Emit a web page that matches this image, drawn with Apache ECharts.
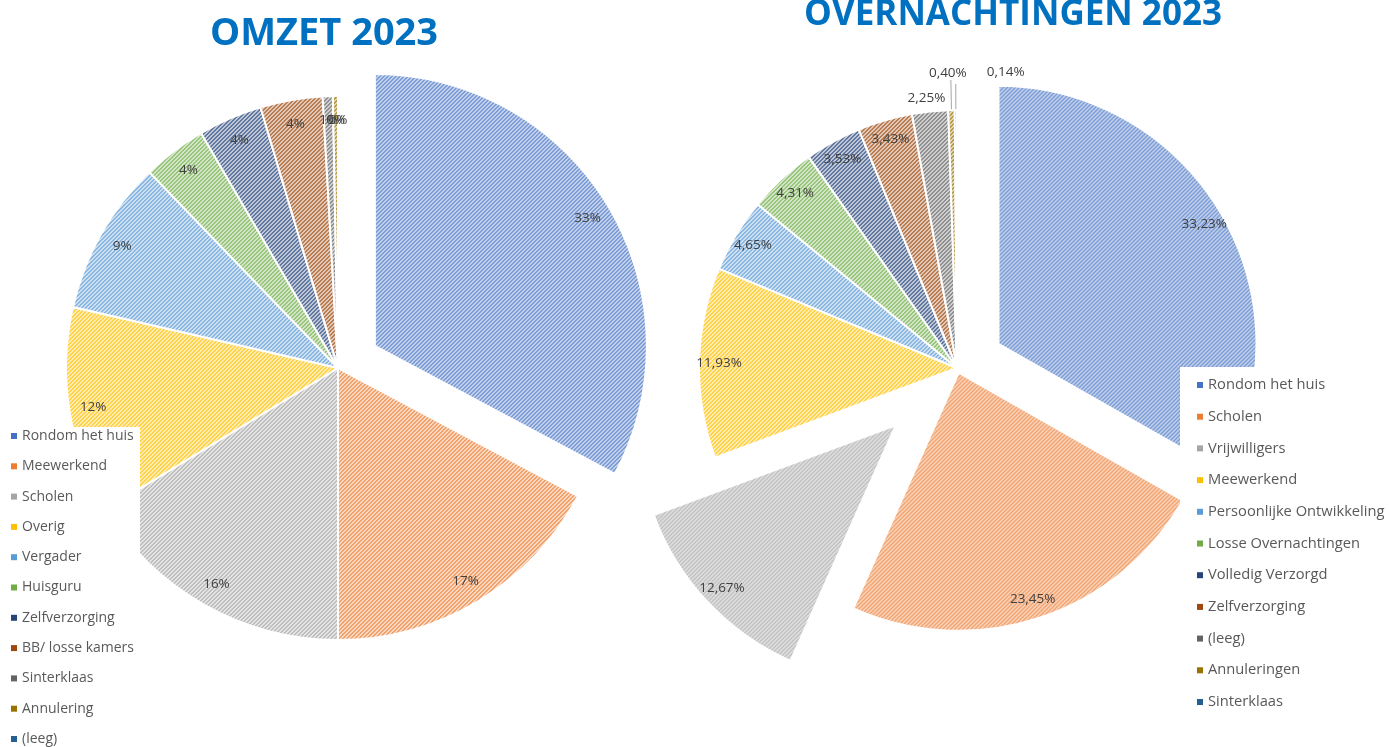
<!DOCTYPE html>
<html><head><meta charset="utf-8">
<script src="https://cdn.jsdelivr.net/npm/echarts@6.0.0/dist/echarts.min.js"></script>
<style>html,body{margin:0;padding:0;background:#fff}#c{width:1389px;height:747px}</style>
</head><body><div id="c"></div>
<script>
// ---- data ----
const omzetTitle = 'OMZET 2023';
const omzetCategories = ['Rondom het huis','Meewerkend','Scholen','Overig','Vergader','Huisguru','Zelfverzorging','BB/ losse kamers','Sinterklaas','Annulering','(leeg)'];
const omzetValues = [32.8,17.2,16.3,12.3,9.2,3.8,3.8,3.7,0.6,0.3,0];

const overnTitle = 'OVERNACHTINGEN 2023';
const overnCategories = ['Rondom het huis','Scholen','Vrijwilligers','Meewerkend','Persoonlijke Ontwikkeling','Losse Overnachtingen','Volledig Verzorgd','Zelfverzorging','(leeg)','Annuleringen','Sinterklaas'];
const overnValues = [33.23,23.45,12.67,11.93,4.65,4.31,3.53,3.43,2.25,0.40,0.14];

const palette = ['#4472C4','#ED7D31','#A5A5A5','#FFC000','#5B9BD5','#70AD47','#264478','#9E480E','#636363','#997300','#255E91'];

// ---- helpers ----
function mix(hex, t){
  const r=parseInt(hex.slice(1,3),16), g=parseInt(hex.slice(3,5),16), b=parseInt(hex.slice(5,7),16);
  return [r+(255-r)*t, g+(255-g)*t, b+(255-b)*t].map(Math.round);
}
function hatch(hex){
  const c=document.createElement('canvas'); c.width=4; c.height=4;
  const ctx=c.getContext('2d'); const img=ctx.createImageData(4,4);
  const d=mix(hex,0.28), l=mix(hex,0.7);
  for(let y=0;y<4;y++) for(let x=0;x<4;x++){
    const col=((x+y)%4<2)?d:l; const k=(y*4+x)*4;
    img.data[k]=col[0]; img.data[k+1]=col[1]; img.data[k+2]=col[2]; img.data[k+3]=255;
  }
  ctx.putImageData(img,0,0);
  return {image:c, repeat:'repeat'};
}
const FONT='"Open Sans", "Noto Sans", sans-serif';
const NONE='rgba(0,0,0,0)';

function buildPie(cats, vals, cfg){
  const out=[];
  cfg.groups.forEach(g=>{
    const inG=i=>g.idx.indexOf(i)>=0;
    const isOut=i=>(cfg.outside||[]).indexOf(i)>=0;
    const hasOut=g.idx.some(isOut);
    const s={
      type:'pie', center:cfg.center, radius:[0,cfg.r], startAngle:90, clockwise:true,
      selectedMode:'multiple', selectedOffset:g.offset, silent:true, animation:false,
      avoidLabelOverlap:false, percentPrecision:cfg.precision, z:2,
      select:{itemStyle:{borderColor:'#fff',borderWidth:2}},
      data:cats.map((n,i)=>({
        name:n, value:vals[i], selected:inG(i)&&g.offset>0,
        itemStyle: inG(i)?{color:hatch(palette[i]),borderColor:'#fff',borderWidth:2}:{color:NONE,borderWidth:0},
        label: (inG(i)&&isOut(i))?{show:true,position:'outside',distanceToLabelLine:3,formatter:cfg.fmt,color:'#404040',fontSize:13.5,fontFamily:FONT}:{show:false},
        labelLine: (inG(i)&&isOut(i))?Object.assign({lineStyle:{color:'#a6a6a6',width:1}}, cfg.lineFor(i)):{show:false}
      }))
    };
    if(hasOut && cfg.labelLayout) s.labelLayout=cfg.labelLayout;
    out.push(s);
    // label ring (inside-end labels)
    out.push({
      type:'pie', center:cfg.center, radius:cfg.ring, startAngle:90, clockwise:true,
      selectedMode:'multiple', selectedOffset:g.offset, silent:true, animation:false,
      avoidLabelOverlap:false, percentPrecision:cfg.precision, z:3,
      minShowLabelAngle:0, labelLayout:{hideOverlap:false},
      data:cats.map((n,i)=>({
        name:n, value:vals[i], selected:inG(i)&&g.offset>0,
        itemStyle:{color:NONE,borderWidth:0},
        label:(inG(i)&&!isOut(i))?{show:true,position:'inside',formatter:cfg.fmt,color:'#404040',fontSize:13.5,fontFamily:FONT}:{show:false},
        labelLine:{show:false}
      }))
    });
  });
  return out;
}

const seriesLeft = buildPie(omzetCategories, omzetValues, {
  center:[338,368], r:272, ring:[234,256], precision:0,
  fmt:'{d}%',
  groups:[{idx:[0],offset:43},{idx:[1,2,3,4,5,6,7,8,9,10],offset:0}],
  outside:[], lineFor:()=>({show:false})
});
const fmtRight = p => p.value.toFixed(2).replace('.',',')+'%';
const seriesRight = buildPie(overnCategories, overnValues, {
  center:[957,368], r:258, ring:[224,246], precision:2,
  fmt:fmtRight,
  groups:[{idx:[0],offset:48},{idx:[1],offset:5},{idx:[2],offset:84},{idx:[3,4,5,6,7,8,9,10],offset:0}],
  outside:[8,9,10],
  lineFor:i=> i===8 ? {show:false,length:6,length2:0} : (i===9 ? {show:true,length:30,length2:0} : {show:true,length:26,length2:0}),
  labelLayout:p=>{
    if(p.dataIndex===8) return {align:'center', verticalAlign:'bottom'};
    if(p.dataIndex===9) return {align:'center', verticalAlign:'bottom'};
    if(p.dataIndex===10) return {align:'left', verticalAlign:'middle', dx:34, dy:-12};
    return {};
  }
});

const chart = echarts.init(document.getElementById('c'), null, {renderer:'canvas'});
chart.setOption({
  backgroundColor:'#fff',
  animation:false,
  legend:[
    {orient:'vertical', left:0, top:427, z:10, selectedMode:false, backgroundColor:'#fff',
     padding:[2,6,0,11], itemWidth:6, itemHeight:6, itemGap:16.3, itemTextGap:6, icon:'rect',
     textStyle:{fontSize:14, color:'#595959', fontFamily:FONT, lineHeight:14},
     data:omzetCategories.map((n,i)=>({name:n, icon:'rect', itemStyle:{color:palette[i], borderWidth:0}}))},
    {orient:'vertical', left:1180, top:367, z:10, selectedMode:false, backgroundColor:'#fff',
     padding:[10,5,10,17], itemWidth:6, itemHeight:6, itemGap:15.7, itemTextGap:6, icon:'rect',
     textStyle:{fontSize:14.7, color:'#595959', fontFamily:FONT, lineHeight:16},
     data:overnCategories.map((n,i)=>({name:n, icon:'rect', itemStyle:{color:palette[i], borderWidth:0}}))}
  ],
  graphic:[
    {type:'text', x:324, y:34, z:20, style:{text:omzetTitle, fill:'#0070C0', font:'bold 38px "Open Sans"', align:'center', verticalAlign:'middle'}},
    {type:'text', x:1013, y:15, z:20, style:{text:overnTitle, fill:'#0070C0', font:'bold 35px "Open Sans"', align:'center', verticalAlign:'middle'}}
  ],
  series: seriesLeft.concat(seriesRight)
});
</script></body></html>
